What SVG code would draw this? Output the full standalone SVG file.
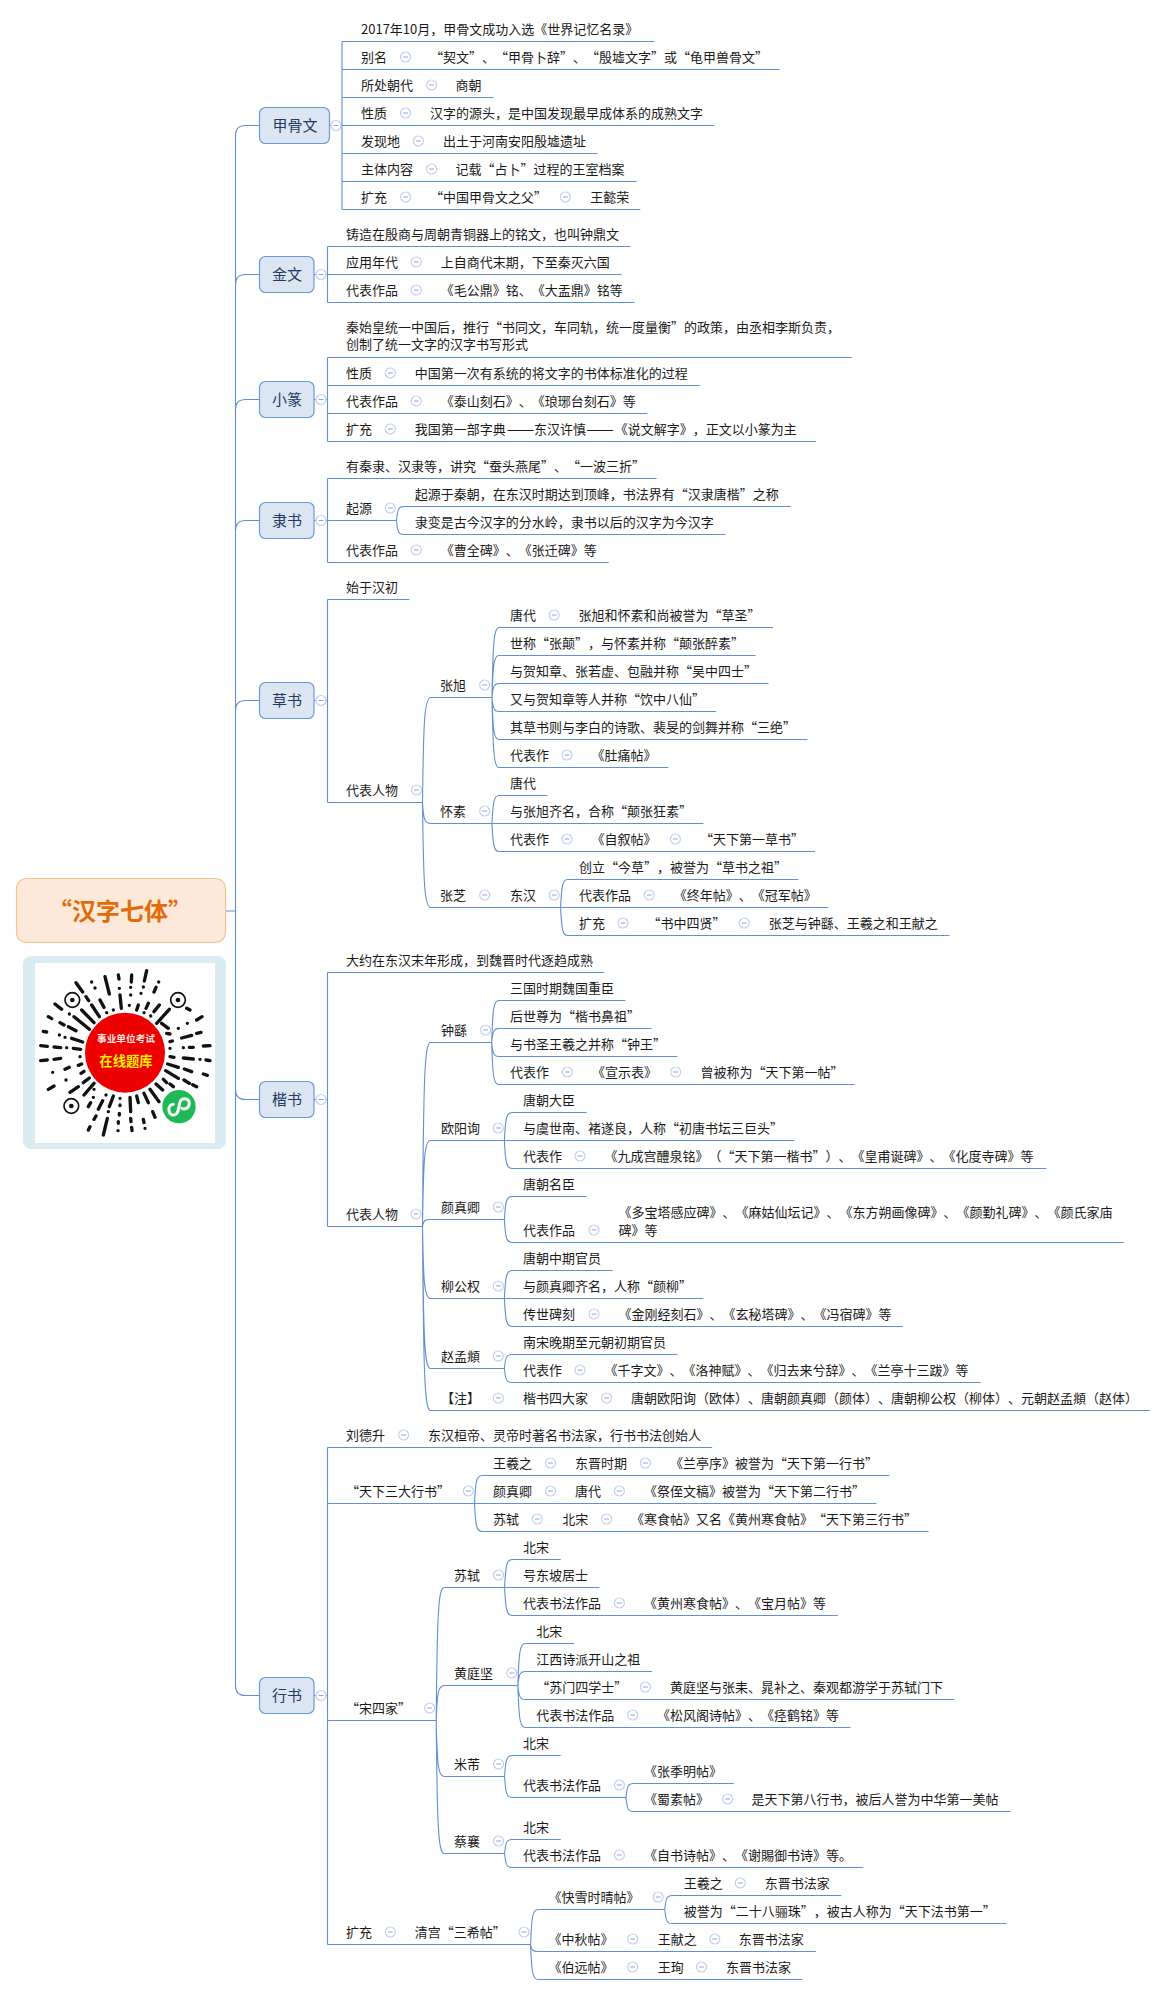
<svg xmlns="http://www.w3.org/2000/svg" width="1166" height="1995" viewBox="0 0 1166 1995">
<style>
text{font-family:"Noto Sans CJK SC","Liberation Sans",sans-serif;font-size:13px;fill:#1a1a1a;text-spacing-trim:space-all;font-kerning:none;font-feature-settings:"chws" 0,"halt" 0,"palt" 0}
text:not(.nt):not([style]){transform:translateY(-1px)}
.d{font-family:"Liberation Sans",sans-serif}
.c{fill:none;stroke:#5f90d4;stroke-width:1.1}
.n{fill:#dce6f2;stroke:#6a9ad8;stroke-width:1.2}
.nt{font-size:15px;fill:#1f3a63;text-anchor:middle}
.m circle{fill:#fff;stroke:#c4cff0;stroke-width:1.2}
.m path{stroke:#8fa3d6;stroke-width:1}
.q{stroke:#111;stroke-width:10;stroke-linecap:round;fill:none}
</style>
<defs><g id="m" class="m"><circle r="5"/><path d="M-2.5 0h5"/></g></defs>
<rect width="1166" height="1995" fill="#fff"/>
<g id="connectors">
<path class="c" d="M226 911H235.5M235.5 135.5V1685.5M235.5 135.5q0-10 10-10H260M235.5 284.5q0-10 10-10H260M235.5 409.5q0-10 10-10H260M235.5 530.5q0-10 10-10H260M235.5 710.5q0-10 10-10H260M235.5 1089.5q0 10 10 10H260M235.5 1685.5q0 10 10 10H260"/>
<path class="c" d="M330 125.5H342M342 41.5V209.5M342 41.5H654.6M342 69.5H779.6M342 97.5H493.4M342 125.5H714.3M342 153.5H597.4M342 181.5H636.7M342 209.5H640.3"/>
<path class="c" d="M314 274.5H327.5M327.5 246.5V302.5M327.5 246.5H630.6M327.5 274.5H621.4M327.5 302.5H634.7"/>
<path class="c" d="M314 399.5H327.5M327.5 357.5V441.5M327.5 357.5H851.7M327.5 385.5H699.7M327.5 413.5H647.4M327.5 441.5H816"/>
<path class="c" d="M314 520.5H327.5M327.5 478.5V562.5M327.5 478.5H656.6M327.5 562.5H608.7M327.5 520.5H396.5M396.5 520.5c1-11 2-14 7-14H790.8M396.5 520.5c1 11 2 14 7 14H725.5"/>
<path class="c" d="M314 700.5H327.5M327.5 599.5V802.5M327.5 599.5H409.4M327.5 802.5H422.5M422.5 802.5c1-84 2-105 8.5-105H492M422.5 802.5c1 17 2 21 8.5 21H492M422.5 802.5c1 84 2 105 8.5 105H560.6"/>
<path class="c" d="M492 697.5c1-56 2-70 7-70H773M492 697.5c1-34 2-42 7-42H755.7M492 697.5c1-11 2-14 7-14H768.5M492 697.5c1 11 2 14 7 14H716.2M492 697.5c1 34 2 42 7 42H807.4M492 697.5c1 56 2 70 7 70H668.4"/>
<path class="c" d="M492 823.5c1-22 2-28 7-28H547.2M492 823.5H703.4M492 823.5c1 22 2 28 7 28H815"/>
<path class="c" d="M560.6 907.5c1-22 2-28 7-28H798.5M560.6 907.5H828.4M560.6 907.5c1 22 2 28 7 28H949.6"/>
<path class="c" d="M314 1099.5H327.5M327.5 972.5V1226.5M327.5 972.5H604.4M327.5 1226.5H422.5M422.5 1226.5c1-147 2-184 8-184H491.7M422.5 1226.5c1-69 2-86 8-86H504.4M422.5 1226.5c1-6 2-7 8-7H504.4M422.5 1226.5c1 58 2 72 8 72H504.4M422.5 1226.5c1 114 2 142 8 142H504.4M422.5 1226.5c1 147 2 184 8 184H1149.7"/>
<path class="c" d="M491.7 1042.5c1-34 2-42 7-42H625.4M491.7 1042.5c1-11 2-14 7-14H651.4M491.7 1042.5c1 11 2 14 7 14H677.3M491.7 1042.5c1 34 2 42 7 42H854.7"/>
<path class="c" d="M504.4 1140.5c1-22 2-28 7.5-28H586.7M504.4 1140.5H794.5M504.4 1140.5c1 22 2 28 7.5 28H1046.4"/>
<path class="c" d="M504.4 1219.5c1-18 2-23 7.5-23H586.7M504.4 1219.5c1 18 2 23 7.5 23H1123.7"/>
<path class="c" d="M504.4 1298.5c1-22 2-28 7.5-28H612.7M504.4 1298.5H703.3M504.4 1298.5c1 22 2 28 7.5 28H902.8"/>
<path class="c" d="M504.4 1368.5c1-11 2-14 7.5-14H677.3M504.4 1368.5c1 11 2 14 7.5 14H980.7"/>
<path class="c" d="M314 1695.5H327.5M327.5 1447.5V1944.5M327.5 1447.5H712.2M327.5 1503.5H474.5M327.5 1720.5H436.2M327.5 1944.5H530.6"/>
<path class="c" d="M474.5 1503.5c1-22 2-28 7.5-28H889.3M474.5 1503.5H876.5M474.5 1503.5c1 22 2 28 7.5 28H928.6"/>
<path class="c" d="M436.2 1720.5c1-106 2-133 8-133H504.6M436.2 1720.5c1-28 2-35 8-35H517.9M436.2 1720.5c1 45 2 56 8 56H504.6M436.2 1720.5c1 106 2 133 8 133H504.6"/>
<path class="c" d="M504.6 1587.5c1-22 2-28 7.5-28H560.7M504.6 1587.5H599.5M504.6 1587.5c1 22 2 28 7.5 28H837.8"/>
<path class="c" d="M517.9 1685.5c1-34 2-42 7.5-42H574M517.9 1685.5c1-11 2-14 7.5-14H652M517.9 1685.5c1 11 2 14 7.5 14H954.6M517.9 1685.5c1 34 2 42 7.5 42H850.5"/>
<path class="c" d="M504.6 1776.5c1-17 2-21 7.5-21H560.7M504.6 1776.5c1 17 2 21 7.5 21H626M626 1797.5c1-11 2-14 7.5-14H733.7M626 1797.5c1 11 2 14 7.5 14H1010.7"/>
<path class="c" d="M504.6 1853.5c1-11 2-14 7.5-14H560.7M504.6 1853.5c1 11 2 14 7.5 14H863.3"/>
<path class="c" d="M530.6 1944.5c1-28 2-35 7.5-35H664.8M530.6 1944.5c1 6 2 7 7.5 7H815.8M530.6 1944.5c1 28 2 35 7.5 35H802.6M664.8 1909.5c1-11 2-14 7.5-14H841.3M664.8 1909.5c1 11 2 14 7.5 14H1006.6"/>
</g>

<g id="root"><rect x="16.5" y="878.5" width="209" height="64" rx="10" fill="#fde9d9" stroke="#fac090" stroke-width="1.2"/><text x="120" y="920" text-anchor="middle" style="font-size:24px;font-weight:700;fill:#e36c09">“汉字七体”</text></g>

<g id="qr">
<rect x="23" y="956" width="203" height="193" rx="8" fill="#daecf2"/>
<rect x="35" y="963" width="180" height="180" fill="#fff"/>
<g transform="translate(0 860) scale(.33333)">
<circle cx="375" cy="578" r="120" fill="#ee0000"/>
<circle cx="217" cy="420" r="22" fill="none" stroke="#111" stroke-width="5"/><circle cx="217" cy="420" r="7" fill="#111"/>
<circle cx="534" cy="420" r="22" fill="none" stroke="#111" stroke-width="5"/><circle cx="534" cy="420" r="7" fill="#111"/>
<circle cx="214" cy="738" r="22" fill="none" stroke="#111" stroke-width="5"/><circle cx="214" cy="738" r="7" fill="#111"/>
<path class="q" d="M228 368L248 396M275 366h.1M285 384h.1M315 350L328 402M355 345L357 357M395 345L394 366M440 332L433 363M476 366h.1M468 382L462 396M358 385h.1M392 382h.1M392 405h.1M430 381h.1M423 400h.1M258 410L266 422M300 420L312 442M360 405L364 445M388 436h.1M340 450h.1M415 435L410 450M445 430L438 445M478 435L462 455M508 448L470 490M320 458h.1M432 458h.1M452 468h.1M275 435L298 470M245 450L282 488M222 470L268 508M165 432L185 448M208 462h.1M180 488L192 495M205 500L228 512M145 470L155 476M130 514L140 516M178 525h.1M195 532h.1M215 535L248 546M122 557L142 559M162 561L182 563M200 563h.1M220 565L242 568M122 602L142 600M162 598L182 595M240 590h.1M158 637h.1M195 628L208 622M235 616L245 612M198 660h.1M243 640L252 634M145 688L162 678M210 697L235 680M250 668L268 654M252 705L282 670M282 688h.1M265 740L272 728M280 712h.1M295 748L308 722M318 705h.1M328 740L340 708M360 715h.1M360 735v2M358 760v5M355 785v5M354 812h.1M390 712L392 755M392 775L393 785M395 802L396 812M410 708L415 728M432 700L445 728M450 688L477 725M430 778L432 788M435 805h.1M458 755L465 772M288 768L282 778M270 800L265 810M322 775L310 825M325 755h.1M468 672L488 690M490 658L500 668M510 672L520 680M497 632L535 655M552 660L568 670M578 674L590 680M503 612L535 622M553 627L575 635M610 642L622 646M510 590L522 592M550 594L580 597M600 598h.1M618 600L630 602M545 534L575 526M590 520L603 517M510 545L517 543M500 520L510 522M510 565h.1M550 563h.1M568 562L580 562M610 558L630 557M485 490L505 505M535 505h.1M562 490h.1M590 480L606 470M560 445L570 450"/>
<text x="378" y="546" text-anchor="middle" style="font-size:29px;font-weight:700;fill:#ffe9e0">事业单位考试</text>
<text x="378" y="617" text-anchor="middle" style="font-size:40px;font-weight:700;fill:#ffee00">在线题库</text>
<circle cx="537" cy="740" r="50" fill="#1db954"/>
<path d="M507 752C510 772 533 768 535 748L539 730C542 712 568 712 568 730C568 746 552 750 546 745M520 733C510 733 505 742 507 752" fill="none" stroke="#fff" stroke-width="9" stroke-linecap="round"/>
</g>
</g>

<g id="n-jiagu"><rect class="n" x="259.5" y="107.5" width="70" height="36" rx="6"/><text class="nt" x="295" y="131">甲骨文</text><use href="#m" x="336" y="125.5"/></g>
<g id="j1"><text x="361" y="34.5">2017年10月，甲骨文成功入选《世界记忆名录》</text></g>
<g id="j2"><text x="361" y="62.5">别名</text><use href="#m" x="405.6" y="57"/><text x="430" y="62.5">“契文”、“甲骨卜辞”、“殷墟文字”或“龟甲兽骨文”</text></g>
<g id="j3"><text x="361" y="90.5">所处朝代</text><use href="#m" x="431.6" y="85"/><text x="455.6" y="90.5">商朝</text></g>
<g id="j4"><text x="361" y="118.5">性质</text><use href="#m" x="405.6" y="113"/><text x="430" y="118.5">汉字的源头，是中国发现最早成体系的成熟文字</text></g>
<g id="j5"><text x="361" y="146.5">发现地</text><use href="#m" x="418.4" y="141"/><text x="442.9" y="146.5">出土于河南安阳殷墟遗址</text></g>
<g id="j6"><text x="361" y="174.5">主体内容</text><use href="#m" x="431.6" y="169"/><text x="455.6" y="174.5">记载“占卜”过程的王室档案</text></g>
<g id="j7"><text x="361" y="202.5">扩充</text><use href="#m" x="405.6" y="197"/><text x="430" y="202.5">“中国甲骨文之父”</text><use href="#m" x="565.3" y="197"/><text x="590.3" y="202.5">王懿荣</text></g>

<g id="n-jinwen"><rect class="n" x="259.5" y="256.5" width="54.5" height="36" rx="6"/><text class="nt" x="287" y="280">金文</text><use href="#m" x="321" y="274.5"/></g>
<g id="k1"><text x="346" y="239.5">铸造在殷商与周朝青铜器上的铭文，也叫钟鼎文</text></g>
<g id="k2"><text x="346" y="267.5">应用年代</text><use href="#m" x="416.3" y="262"/><text x="440.8" y="267.5">上自商代末期，下至秦灭六国</text></g>
<g id="k3"><text x="346" y="295.5">代表作品</text><use href="#m" x="416.3" y="290"/><text x="440.8" y="295.5">《毛公鼎》铭、《大盂鼎》铭等</text></g>

<g id="n-xiaozhuan"><rect class="n" x="259.5" y="381.5" width="54.5" height="36" rx="6"/><text class="nt" x="287" y="405">小篆</text><use href="#m" x="321" y="399.5"/></g>
<g id="x1"><text x="346" y="333">秦始皇统一中国后，推行“书同文，车同轨，统一度量衡”的政策，由丞相李斯负责，</text><text x="346" y="350">创制了统一文字的汉字书写形式</text></g>
<g id="x2"><text x="346" y="378.5">性质</text><use href="#m" x="390.3" y="373"/><text x="414.8" y="378.5">中国第一次有系统的将文字的书体标准化的过程</text></g>
<g id="x3"><text x="346" y="406.5">代表作品</text><use href="#m" x="416.3" y="401"/><text x="440.8" y="406.5">《泰山刻石》、《琅琊台刻石》等</text></g>
<g id="x4"><text x="346" y="434.5">扩充</text><use href="#m" x="390.3" y="429"/><text x="414.8" y="434.5">我国第一部字典<tspan class="d" x="507.4">——</tspan><tspan x="534">东汉许慎</tspan><tspan class="d" x="587">——</tspan><tspan x="614.8">《说文解字》，正文以小篆为主</tspan></text></g>

<g id="n-lishu"><rect class="n" x="259.5" y="502.5" width="54.5" height="36" rx="6"/><text class="nt" x="287" y="526">隶书</text><use href="#m" x="321" y="520.5"/></g>
<g id="l1"><text x="346" y="471.5">有秦隶、汉隶等，讲究“蚕头燕尾”、“一波三折”</text></g>
<g id="l2"><text x="346" y="513.5">起源</text><use href="#m" x="390.3" y="508"/><text x="414.8" y="499.5">起源于秦朝，在东汉时期达到顶峰，书法界有“汉隶唐楷”之称</text><text x="414.8" y="527.5">隶变是古今汉字的分水岭，隶书以后的汉字为今汉字</text></g>
<g id="l3"><text x="346" y="555.5">代表作品</text><use href="#m" x="416.3" y="550"/><text x="440.8" y="555.5">《曹全碑》、《张迁碑》等</text></g>

<g id="n-caoshu"><rect class="n" x="259.5" y="682.5" width="54.5" height="36" rx="6"/><text class="nt" x="287" y="706">草书</text><use href="#m" x="321" y="700.5"/></g>
<g id="c1"><text x="346" y="592.5">始于汉初</text></g>
<g id="c2"><text x="346" y="795.5">代表人物</text><use href="#m" x="416.5" y="790"/></g>
<g id="c3"><text x="440" y="690.5">张旭</text><use href="#m" x="484.7" y="685"/></g>
<g id="c4"><text x="510" y="620.5">唐代</text><use href="#m" x="554.2" y="615"/><text x="578.4" y="620.5">张旭和怀素和尚被誉为“草圣”</text></g>
<g id="c5"><text x="510" y="648.5">世称“张颠”，与怀素并称“颠张醉素”</text></g>
<g id="c6"><text x="510" y="676.5">与贺知章、张若虚、包融并称“吴中四士”</text></g>
<g id="c7"><text x="510" y="704.5">又与贺知章等人并称“饮中八仙”</text></g>
<g id="c8"><text x="510" y="732.5">其草书则与李白的诗歌、裴旻的剑舞并称“三绝”</text></g>
<g id="c9"><text x="510" y="760.5">代表作</text><use href="#m" x="567" y="755"/><text x="591.5" y="760.5">《肚痛帖》</text></g>
<g id="c10"><text x="440" y="816.5">怀素</text><use href="#m" x="484.7" y="811"/></g>
<g id="c11"><text x="510" y="788.5">唐代</text></g>
<g id="c12"><text x="510" y="816.5">与张旭齐名，合称“颠张狂素”</text></g>
<g id="c13"><text x="510" y="844.5">代表作</text><use href="#m" x="567" y="839"/><text x="591.5" y="844.5">《自叙帖》</text><use href="#m" x="675.4" y="839"/><text x="700" y="844.5">“天下第一草书”</text></g>
<g id="c14"><text x="440" y="900.5">张芝</text><use href="#m" x="484.7" y="895"/><text x="510" y="900.5">东汉</text><use href="#m" x="554.2" y="895"/></g>
<g id="c15"><text x="579" y="872.5">创立“今草”，被誉为“草书之祖”</text></g>
<g id="c16"><text x="579" y="900.5">代表作品</text><use href="#m" x="649.2" y="895"/><text x="673.7" y="900.5">《终年帖》、《冠军帖》</text></g>
<g id="c17"><text x="579" y="928.5">扩充</text><use href="#m" x="623" y="923"/><text x="647.5" y="928.5">“书中四贤”</text><use href="#m" x="744.3" y="923"/><text x="768.8" y="928.5">张芝与钟繇、王羲之和王献之</text></g>

<g id="n-kaishu"><rect class="n" x="259.5" y="1081.5" width="54.5" height="36" rx="6"/><text class="nt" x="287" y="1105">楷书</text><use href="#m" x="321" y="1099.5"/></g>
<g id="s1"><text x="346" y="965.5">大约在东汉末年形成，到魏晋时代逐趋成熟</text></g>
<g id="s2"><text x="346" y="1219.5">代表人物</text><use href="#m" x="416" y="1214"/></g>
<g id="s3"><text x="441" y="1035.5">钟繇</text><use href="#m" x="485.6" y="1030"/></g>
<g id="s4"><text x="510" y="993.5">三国时期魏国重臣</text></g>
<g id="s5"><text x="510" y="1021.5">后世尊为“楷书鼻祖”</text></g>
<g id="s6"><text x="510" y="1049.5">与书圣王羲之并称“钟王”</text></g>
<g id="s7"><text x="510" y="1077.5">代表作</text><use href="#m" x="567.4" y="1072"/><text x="592" y="1077.5">《宣示表》</text><use href="#m" x="675.7" y="1072"/><text x="700.6" y="1077.5">曾被称为“天下第一帖”</text></g>
<g id="s8"><text x="441" y="1133.5">欧阳询</text><use href="#m" x="498.3" y="1128"/></g>
<g id="s9"><text x="523" y="1105.5">唐朝大臣</text></g>
<g id="s10"><text x="523" y="1133.5">与虞世南、褚遂良，人称“初唐书坛三巨头”</text></g>
<g id="s11"><text x="523" y="1161.5">代表作</text><use href="#m" x="580" y="1156"/><text x="604.5" y="1161.5">《九成宫醴泉铭》（“天下第一楷书”）、《皇甫诞碑》、《化度寺碑》等</text></g>
<g id="s12"><text x="441" y="1212.5">颜真卿</text><use href="#m" x="498.3" y="1207"/></g>
<g id="s13"><text x="523" y="1189.5">唐朝名臣</text></g>
<g id="s14"><text x="523" y="1235.5">代表作品</text><use href="#m" x="594" y="1230"/><text x="618.5" y="1218">《多宝塔感应碑》、《麻姑仙坛记》、《东方朔画像碑》、《颜勤礼碑》、《颜氏家庙</text><text x="618.5" y="1235.5">碑》等</text></g>
<g id="s15"><text x="441" y="1291.5">柳公权</text><use href="#m" x="498.3" y="1286"/></g>
<g id="s16"><text x="523" y="1263.5">唐朝中期官员</text></g>
<g id="s17"><text x="523" y="1291.5">与颜真卿齐名，人称“颜柳”</text></g>
<g id="s18"><text x="523" y="1319.5">传世碑刻</text><use href="#m" x="594" y="1314"/><text x="618.5" y="1319.5">《金刚经刻石》、《玄秘塔碑》、《冯宿碑》等</text></g>
<g id="s19"><text x="441" y="1361.5">赵孟頫</text><use href="#m" x="498.3" y="1356"/></g>
<g id="s20"><text x="523" y="1347.5">南宋晚期至元朝初期官员</text></g>
<g id="s21"><text x="523" y="1375.5">代表作</text><use href="#m" x="580" y="1370"/><text x="604.5" y="1375.5">《千字文》、《洛神赋》、《归去来兮辞》、《兰亭十三跋》等</text></g>
<g id="s22"><text x="441" y="1403.5">【注】</text><use href="#m" x="498.3" y="1398"/><text x="523" y="1403.5">楷书四大家</text><use href="#m" x="606.6" y="1398"/><text x="631" y="1403.5">唐朝欧阳询（欧体）、唐朝颜真卿（颜体）、唐朝柳公权（柳体）、元朝赵孟頫（赵体）</text></g>

<g id="n-xingshu"><rect class="n" x="259.5" y="1677.5" width="54.5" height="36" rx="6"/><text class="nt" x="287" y="1701">行书</text><use href="#m" x="321" y="1695.5"/></g>
<g id="h1"><text x="346" y="1440.5">刘德升</text><use href="#m" x="403.6" y="1435"/><text x="428" y="1440.5">东汉桓帝、灵帝时著名书法家，行书书法创始人</text></g>
<g id="h2"><text x="346" y="1496.5">“天下三大行书”</text><use href="#m" x="468.4" y="1491"/></g>
<g id="h3"><text x="493" y="1468.5">王羲之</text><use href="#m" x="550.5" y="1463"/><text x="575" y="1468.5">东晋时期</text><use href="#m" x="645.4" y="1463"/><text x="670" y="1468.5">《兰亭序》被誉为“天下第一行书”</text></g>
<g id="h4"><text x="493" y="1496.5">颜真卿</text><use href="#m" x="550.5" y="1491"/><text x="575" y="1496.5">唐代</text><use href="#m" x="619.4" y="1491"/><text x="644" y="1496.5">《祭侄文稿》被誉为“天下第二行书”</text></g>
<g id="h5"><text x="493" y="1524.5">苏轼</text><use href="#m" x="537.2" y="1519"/><text x="562.2" y="1524.5">北宋</text><use href="#m" x="606.6" y="1519"/><text x="631" y="1524.5">《寒食帖》又名《黄州寒食帖》“天下第三行书”</text></g>
<g id="h6"><text x="346" y="1713.5">“宋四家”</text><use href="#m" x="429.6" y="1708"/></g>
<g id="h7"><text x="454" y="1580.5">苏轼</text><use href="#m" x="498.5" y="1575"/></g>
<g id="h8"><text x="523" y="1552.5">北宋</text></g>
<g id="h9"><text x="523" y="1580.5">号东坡居士</text></g>
<g id="h10"><text x="523" y="1608.5">代表书法作品</text><use href="#m" x="619.4" y="1603"/><text x="644" y="1608.5">《黄州寒食帖》、《宝月帖》等</text></g>
<g id="h11"><text x="454" y="1678.5">黄庭坚</text><use href="#m" x="511.7" y="1673"/></g>
<g id="h12"><text x="536.2" y="1636.5">北宋</text></g>
<g id="h13"><text x="536.2" y="1664.5">江西诗派开山之祖</text></g>
<g id="h14"><text x="536.2" y="1692.5">“苏门四学士”</text><use href="#m" x="645.4" y="1687"/><text x="670" y="1692.5">黄庭坚与张耒、晁补之、秦观都游学于苏轼门下</text></g>
<g id="h15"><text x="536.2" y="1720.5">代表书法作品</text><use href="#m" x="632.7" y="1715"/><text x="657" y="1720.5">《松风阁诗帖》、《痉鹤铭》等</text></g>
<g id="h16"><text x="454" y="1769.5">米芾</text><use href="#m" x="498.5" y="1764"/></g>
<g id="h17"><text x="523" y="1748.5">北宋</text></g>
<g id="h18"><text x="523" y="1790.5">代表书法作品</text><use href="#m" x="619.4" y="1785"/></g>
<g id="h19"><text x="644" y="1776.5">《张季明帖》</text></g>
<g id="h20"><text x="644" y="1804.5">《蜀素帖》</text><use href="#m" x="727.6" y="1799"/><text x="751.5" y="1804.5">是天下第八行书，被后人誉为中华第一美帖</text></g>
<g id="h21"><text x="454" y="1846.5">蔡襄</text><use href="#m" x="498.5" y="1841"/></g>
<g id="h22"><text x="523" y="1832.5">北宋</text></g>
<g id="h23"><text x="523" y="1860.5">代表书法作品</text><use href="#m" x="619.4" y="1855"/><text x="644" y="1860.5">《自书诗帖》、《谢賜御书诗》等。</text></g>
<g id="h24"><text x="346" y="1937.5">扩充</text><use href="#m" x="390.3" y="1932"/><text x="414.8" y="1937.5">清宫“三希帖”</text><use href="#m" x="524" y="1932"/></g>
<g id="h25"><text x="548.5" y="1902.5">《快雪时晴帖》</text><use href="#m" x="658.2" y="1897"/></g>
<g id="h26"><text x="683.7" y="1888.5">王羲之</text><use href="#m" x="740.3" y="1883"/><text x="764.8" y="1888.5">东晋书法家</text></g>
<g id="h27"><text x="683.7" y="1916.5">被誉为“二十八骊珠”，被古人称为“天下法书第一”</text></g>
<g id="h28"><text x="548.5" y="1944.5">《中秋帖》</text><use href="#m" x="632.7" y="1939"/><text x="657.7" y="1944.5">王献之</text><use href="#m" x="714.8" y="1939"/><text x="738.8" y="1944.5">东晋书法家</text></g>
<g id="h29"><text x="548.5" y="1972.5">《伯远帖》</text><use href="#m" x="632.7" y="1967"/><text x="657.7" y="1972.5">王珣</text><use href="#m" x="701.5" y="1967"/><text x="726" y="1972.5">东晋书法家</text></g>
</svg>
